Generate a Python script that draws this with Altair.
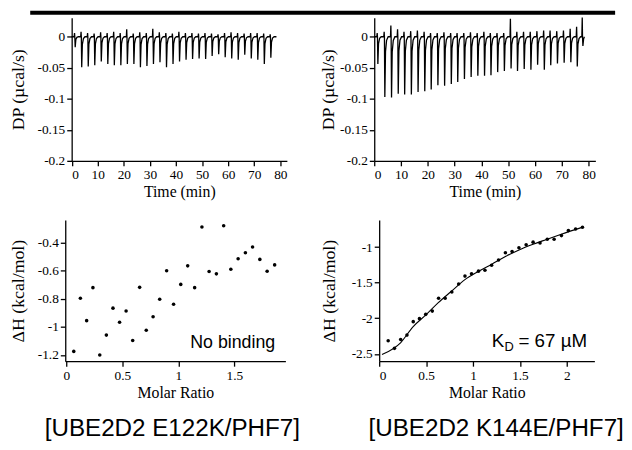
import altair as alt
import pandas as pd

# ---------------- data ----------------
# Top-left thermogram: UBE2D2 E122K/PHF7 (injection time in min, peak DP, small upward blip)
tl_times = [1.2, 3.7, 6.2, 8.7, 11.2, 13.7, 16.2, 18.7, 21.2, 23.7, 26.2, 28.7, 31.2, 33.7, 36.2,
            38.7, 41.2, 43.7, 46.2, 48.7, 51.2, 53.7, 56.2, 58.7, 61.2, 63.7, 66.2, 68.7, 71.2, 73.7, 76.2]
tl_peaks = [-0.017, -0.049, -0.048, -0.046, -0.040, -0.044, -0.046, -0.046, -0.044, -0.044, -0.049,
            -0.047, -0.044, -0.041, -0.049, -0.044, -0.040, -0.037, -0.036, -0.035, -0.036, -0.031,
            -0.028, -0.033, -0.035, -0.037, -0.029, -0.035, -0.037, -0.044, -0.034]
tl_blips = [0.006, 0.008, 0.006, 0.005, 0.007, 0.006, 0.008, 0.006, 0.012, 0.005, 0.007, 0.006,
            0.013, 0.007, 0.006, 0.005, 0.008, 0.006, 0.006, 0.005, 0.006, 0.005, 0.004, 0.006,
            0.007, 0.006, 0.005, 0.006, 0.006, 0.005, 0.004]
tl_end = 78.5

# Top-right thermogram: UBE2D2 K144E/PHF7
tr_times = [1.2, 3.8, 6.3, 8.8, 11.2, 13.7, 16.2, 18.7, 21.1, 23.6, 26.1, 28.6, 31.0, 33.5, 36.0,
            38.5, 41.0, 43.4, 45.9, 48.4, 50.9, 53.3, 55.8, 58.3, 60.8, 63.3, 65.7, 68.2, 70.7, 73.2,
            75.6, 77.7]
tr_peaks = [-0.044, -0.097, -0.098, -0.092, -0.093, -0.093, -0.089, -0.088, -0.085, -0.078, -0.079,
            -0.076, -0.073, -0.068, -0.065, -0.063, -0.063, -0.062, -0.057, -0.055, -0.051, -0.055,
            -0.052, -0.053, -0.045, -0.053, -0.046, -0.043, -0.042, -0.041, -0.048, -0.015]
tr_blips = [0.006, 0.008, 0.018, 0.012, 0.008, 0.009, 0.010, 0.008, 0.006, 0.006, 0.007, 0.006,
            0.006, 0.006, 0.007, 0.006, 0.008, 0.006, 0.006, 0.006, 0.029, 0.008, 0.008, 0.008,
            0.009, 0.010, 0.010, 0.009, 0.010, 0.013, 0.016, 0.031]
tr_end = 78.4

# Bottom-left integrated heats (no binding)
bl_ratio = [0.066, 0.125, 0.181, 0.237, 0.298, 0.357, 0.416, 0.475, 0.533, 0.592, 0.654, 0.713,
            0.774, 0.833, 0.895, 0.957, 1.021, 1.083, 1.145, 1.210, 1.274, 1.339, 1.404, 1.468,
            1.533, 1.598, 1.662, 1.727, 1.792, 1.859]
bl_dh = [-1.175, -0.796, -0.956, -0.721, -1.200, -1.059, -0.867, -0.968, -0.888, -1.097, -0.719,
         -1.024, -0.928, -0.804, -0.601, -0.839, -0.698, -0.566, -0.721, -0.289, -0.606, -0.623,
         -0.280, -0.590, -0.515, -0.473, -0.432, -0.520, -0.604, -0.559]

# Bottom-right integrated heats (KD = 67 uM) and the fitted curve
br_ratio = [0.096, 0.163, 0.229, 0.296, 0.363, 0.429, 0.496, 0.566, 0.633, 0.703, 0.774, 0.847,
            0.914, 0.984, 1.058, 1.127, 1.198, 1.272, 1.345, 1.416, 1.489, 1.566, 1.640, 1.714,
            1.791, 1.864, 1.942, 2.016, 2.093, 2.166]
br_dh = [-2.315, -2.422, -2.297, -2.236, -2.047, -2.005, -1.945, -1.899, -1.718, -1.718, -1.630,
         -1.519, -1.408, -1.375, -1.338, -1.325, -1.255, -1.181, -1.079, -1.061, -1.010, -0.968,
         -0.931, -0.944, -0.889, -0.889, -0.839, -0.769, -0.746, -0.722]
fit_ratio = [0.03, 0.23, 0.36, 0.50, 0.63, 0.77, 0.91, 1.06, 1.20, 1.35, 1.49, 1.64, 1.79, 1.94, 2.17]
fit_dh = [-2.51, -2.34, -2.12, -1.95, -1.78, -1.62, -1.46, -1.34, -1.24, -1.13, -1.04, -0.96,
          -0.89, -0.82, -0.72]

time_ticks = [0, 10, 20, 30, 40, 50, 60, 70, 80]
dp_ticks = [0, -0.05, -0.1, -0.15, -0.2]
bl_xticks = [0, 0.5, 1, 1.5]
bl_yticks = [-0.4, -0.6, -0.8, -1, -1.2]
br_xticks = [0, 0.5, 1, 1.5, 2]
br_yticks = [-1, -1.5, -2, -2.5]

label_left = "[UBE2D2 E122K/PHF7]"
label_right = "[UBE2D2 K144E/PHF7]"

# ---------------- helpers ----------------
SERIF = "Liberation Serif"
SANS = "Liberation Sans"
MINUS_FIX = "replace(datum.label, '\u2212', '-')"


def thermo_df(times, peaks, blips, t_end):
    rows = [(0.0, 0.0)]
    for t, d, u in zip(times, peaks, blips):
        rows += [(t - 0.25, 0.0), (t - 0.1, u), (t, 0.0), (t + 0.15, d),
                 (t + 0.4, 0.25 * d), (t + 0.8, 0.06 * d), (t + 1.4, 0.0)]
    rows = [r for r in rows if r[0] < t_end]
    rows.append((t_end, 0.0))
    df = pd.DataFrame(rows, columns=["t", "dp"])
    df["i"] = range(len(df))
    return df


def yaxis(title, values, extent, offset=0):
    return alt.Axis(title=title, values=values, format="~f", labelExpr=MINUS_FIX,
                    labelOverlap=False, labelSeparation=0, minExtent=extent, maxExtent=extent,
                    titlePadding=2, titleFontSize=18, offset=offset)


def xaxis(title, values):
    return alt.Axis(title=title, values=values, format="~f", labelExpr=MINUS_FIX,
                    labelOverlap=False, titlePadding=3)


# ---------------- top-left ----------------
tl_df = thermo_df(tl_times, tl_peaks, tl_blips, tl_end)
tl_line = alt.Chart(tl_df).mark_line(color="black", strokeWidth=1.3).encode(
    x=alt.X("t:Q", scale=alt.Scale(domain=[0, 82.5], range=[6.5, 224.5], nice=False, zero=False),
            axis=xaxis("Time (min)", time_ticks)),
    y=alt.Y("dp:Q", scale=alt.Scale(domain=[-0.2, 0.0307], nice=False, zero=False),
            axis=yaxis("DP (µcal/s)", dp_ticks, 43, offset=-6.5)),
    order="i:Q",
)
top_bar = alt.Chart(pd.DataFrame({"a": [0]})).mark_rule(color="black", strokeWidth=4).encode(
    x=alt.value(-35.5), x2=alt.value(557), y=alt.value(-5)
)
tl = alt.layer(tl_line, top_bar).properties(width=224.5, height=145)

# ---------------- top-right ----------------
tr_df = thermo_df(tr_times, tr_peaks, tr_blips, tr_end)
tr = alt.Chart(tr_df).mark_line(color="black", strokeWidth=1.3).encode(
    x=alt.X("t:Q", scale=alt.Scale(domain=[0, 82.5], nice=False, zero=False),
            axis=xaxis("Time (min)", time_ticks)),
    y=alt.Y("dp:Q", scale=alt.Scale(domain=[-0.2, 0.0307], nice=False, zero=False),
            axis=yaxis("DP (µcal/s)", dp_ticks, 35)),
    order="i:Q",
).properties(width=224, height=145)

# ---------------- bottom-left ----------------
bl_df = pd.DataFrame({"r": bl_ratio, "h": bl_dh})
bl_x = alt.X("r:Q", scale=alt.Scale(domain=[-0.01, 1.955], nice=False, zero=False),
             axis=xaxis("Molar Ratio", bl_xticks))
bl_y = alt.Y("h:Q", scale=alt.Scale(domain=[-1.245, -0.24], nice=False, zero=False),
             axis=yaxis("ΔH (kcal/mol)", bl_yticks, 36.5))
bl_pts = alt.Chart(bl_df).mark_circle(color="black", size=13, opacity=1).encode(x=bl_x, y=bl_y)
bl_txt = alt.Chart(pd.DataFrame({"r": [1.106], "h": [-1.154], "s": ["No binding"]})).mark_text(
    align="left", baseline="alphabetic", font=SANS, fontSize=18, color="black"
).encode(x=bl_x, y=bl_y, text="s:N")
bl = alt.layer(bl_pts, bl_txt).properties(
    width=223, height=143,
    title=alt.TitleParams(label_left, orient="bottom", anchor="middle", frame="group",
                          font=SANS, fontSize=24.5, fontWeight="normal", color="black",
                          offset=17, dx=-3),
)

# ---------------- bottom-right ----------------
br_df = pd.DataFrame({"r": br_ratio, "h": br_dh})
fit_df = pd.DataFrame({"r": fit_ratio, "h": fit_dh})
br_x = alt.X("r:Q", scale=alt.Scale(domain=[0, 2.293], nice=False, zero=False),
             axis=xaxis("Molar Ratio", br_xticks))
br_y = alt.Y("h:Q", scale=alt.Scale(domain=[-2.603, -0.621], nice=False, zero=False),
             axis=yaxis("ΔH (kcal/mol)", br_yticks, 39))
br_pts = alt.Chart(br_df).mark_circle(color="black", size=13, opacity=1).encode(x=br_x, y=br_y)
br_fit = alt.Chart(fit_df).mark_line(color="black", strokeWidth=1.1, interpolate="monotone").encode(
    x=br_x, y=br_y)
kd_pos = pd.DataFrame({"r": [1.2], "h": [-2.408], "a": ["K"], "b": ["D"], "c": ["= 67 µM"]})
kd_k = alt.Chart(kd_pos).mark_text(align="left", baseline="alphabetic", font=SANS, fontSize=19,
                                   color="black").encode(x=br_x, y=br_y, text="a:N")
kd_d = alt.Chart(kd_pos).mark_text(align="left", baseline="alphabetic", font=SANS, fontSize=13,
                                   color="black", dx=12.8, dy=3.5).encode(x=br_x, y=br_y, text="b:N")
kd_c = alt.Chart(kd_pos).mark_text(align="left", baseline="alphabetic", font=SANS, fontSize=19,
                                   color="black", dx=27).encode(x=br_x, y=br_y, text="c:N")
br = alt.layer(br_fit, br_pts, kd_k, kd_d, kd_c).properties(
    width=218, height=143,
    title=alt.TitleParams(label_right, orient="bottom", anchor="middle", frame="group",
                          font=SANS, fontSize=24.5, fontWeight="normal", color="black",
                          offset=17, dx=9.5),
)

top_row = alt.hconcat(tl, tr, spacing=88, bounds="flush")
bottom_row = alt.hconcat(bl, br, spacing=95, bounds="flush")

chart = alt.vconcat(top_row, bottom_row, spacing=20).properties(
    padding={"left": 1, "top": 0, "right": 0, "bottom": 0}
).configure_axis(
    labelFont=SERIF, titleFont=SERIF, labelFontSize=13.5, titleFontSize=16,
    titleFontWeight="normal", labelColor="black", titleColor="black",
    domainColor="black", tickColor="black", tickSize=5, grid=False,
    labelPadding=2, domainWidth=1.3, tickWidth=1.3,
).configure_view(strokeWidth=0).configure_title(font=SANS)

chart.save("out.html", embed_options={"renderer": "svg", "actions": False})
